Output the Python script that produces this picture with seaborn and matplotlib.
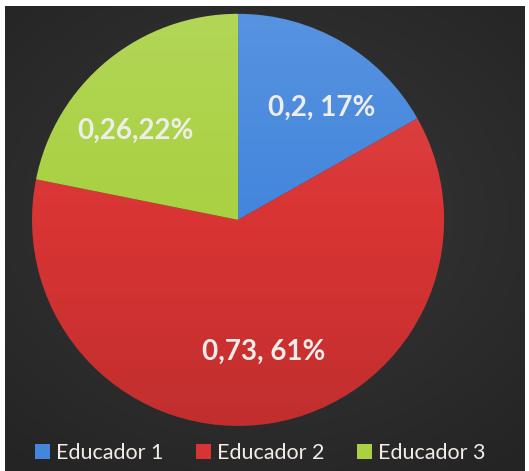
import matplotlib
matplotlib.use('Agg')
import numpy as np
import matplotlib.pyplot as plt
import seaborn as sns
from matplotlib.patches import Circle

# data
educadores = ['Educador 1', 'Educador 2', 'Educador 3']
valores = [0.2, 0.73, 0.26]
etiquetas = ['0,2, 17%', '0,73, 61%', '0,26,22%']
colores = ['#4386DC', '#D93434', '#A9D142']

# where the data labels sit (axes fraction)
pos_etiquetas = [(0.704, 0.772), (0.561, 0.180), (0.252, 0.716)]

sns.set_theme(style='white')
plt.rcParams['font.family'] = ['Lato', 'DejaVu Sans']

fig = plt.figure(figsize=(5.29, 4.71), dpi=100, facecolor='white')

# dark background panel with a soft radial shading
bg = fig.add_axes([5 / 529, 0, 520 / 529, 465 / 471])
yy, xx = np.mgrid[-1:1:300j, -1:1:300j]
rr = np.sqrt((xx * 0.9) ** 2 + (yy + 0.1) ** 2)
bg.imshow(rr, cmap=matplotlib.colors.LinearSegmentedColormap.from_list(
    'bg', ['#3d3d3d', '#2e2e2e', '#242424']), vmin=0, vmax=1.4,
    aspect='auto', extent=[0, 1, 0, 1])
bg.set_axis_off()

ax = fig.add_axes([0.0605, 0.0957, 0.779, 0.875])
wedges, _ = ax.pie(valores, colors=colores, startangle=90, counterclock=False,
                   radius=1, wedgeprops=dict(linewidth=0))
ax.set_xlim(-1, 1)
ax.set_ylim(-1, 1)
ax.set_aspect('equal')
ax.set_axis_off()

# light-to-dark vertical shading over the slices
g = np.linspace(0, 1, 256)[:, None]
shade = np.zeros((256, 2, 4))
shade[..., :3] = np.where(g[..., None] < 0.5, 1.0, 0.0)
shade[..., 3] = np.abs(g - 0.5) * 0.22
im = ax.imshow(shade, extent=[-1, 1, -1, 1], aspect='auto', zorder=3)
im.set_clip_path(Circle((0, 0), 1, transform=ax.transData))

for txt, (px, py) in zip(etiquetas, pos_etiquetas):
    ax.text(px, py, txt, transform=ax.transAxes, ha='center', va='center',
            fontsize=20, fontweight='bold', color='#EFEDEA', zorder=5)

leg = fig.legend(wedges, educadores, loc='center', bbox_to_anchor=(0.492, 0.038),
                 ncol=3, frameon=False, fontsize=15.5, handlelength=0.7,
                 handleheight=0.7, handletextpad=0.3, columnspacing=1.5,
                 labelcolor='#F2EEE6')

fig.savefig('out.png', dpi=100, facecolor='white')
